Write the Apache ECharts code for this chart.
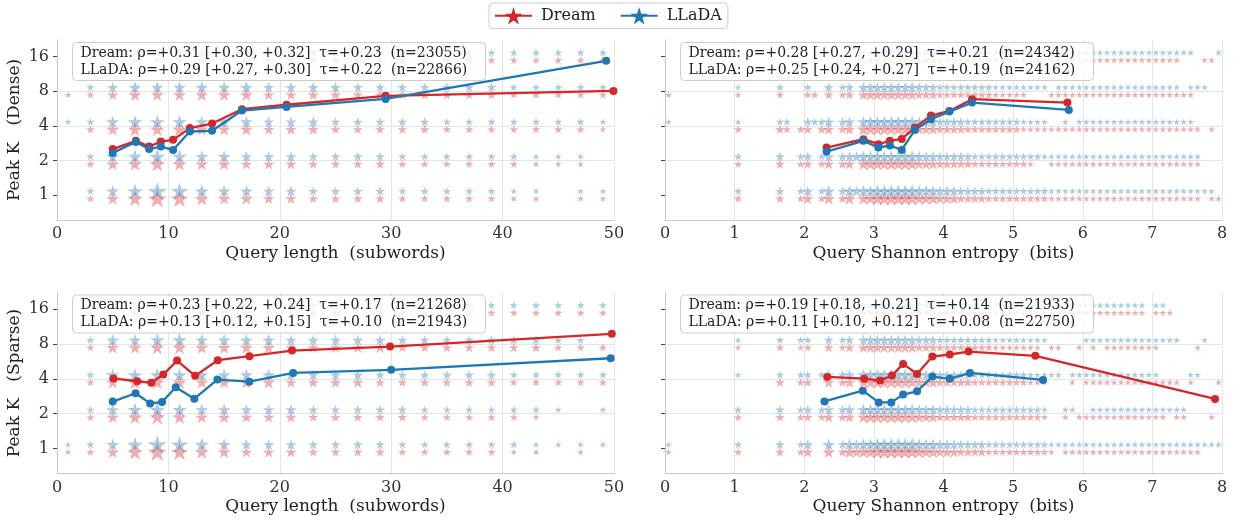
<!DOCTYPE html>
<html>
<head>
<meta charset="utf-8">
<title>Peak K vs query length / entropy</title>
<script src="https://cdn.jsdelivr.net/npm/echarts@6/dist/echarts.min.js"></script>
<style>
  html, body { margin: 0; padding: 0; background: #fff; }
  #chart { width: 1237px; height: 521px; }
</style>
</head>
<body>
<div id="chart"></div>
<script>
// ---- data ----
// rows of the star grid (Peak K values)
const kLevels = [1, 2, 4, 8, 16];
// query length bins (subwords)
const lenBins = [1, 3, 5, 7, 9, 11, 13, 15, 17, 19, 21, 23, 25, 27, 29, 31, 33, 35, 37, 39, 41, 43, 45, 47, 49];
// entropy bins (bits), centres of 0.1 wide bins
const entBins = [
  0.05, 0.15, 0.25, 0.35, 0.45, 0.55, 0.65, 0.75, 0.85, 0.95,
  1.05, 1.15, 1.25, 1.35, 1.45, 1.55, 1.65, 1.75, 1.85, 1.95,
  2.05, 2.15, 2.25, 2.35, 2.45, 2.55, 2.65, 2.75, 2.85, 2.95,
  3.05, 3.15, 3.25, 3.35, 3.45, 3.55, 3.65, 3.75, 3.85, 3.95,
  4.05, 4.15, 4.25, 4.35, 4.45, 4.55, 4.65, 4.75, 4.85, 4.95,
  5.05, 5.15, 5.25, 5.35, 5.45, 5.55, 5.65, 5.75, 5.85, 5.95,
  6.05, 6.15, 6.25, 6.35, 6.45, 6.55, 6.65, 6.75, 6.85, 6.95,
  7.05, 7.15, 7.25, 7.35, 7.45, 7.55, 7.65, 7.75, 7.85, 7.95
];

// count class per bin (0 = empty, 9 = most queries), one string per K row
const denseLenDream = [
  '0257986554433332222211011',
  '0256765544433332222221110',
  '0256665554443333322222221',
  '1245555554444333333322222',
  '0122223333333333333222222'
];
const denseLenLlada = [
  '0257986554433332222211011',
  '0256765544433332222221110',
  '1256665554443333322222221',
  '0245555554444333333322222',
  '0122223333333333333222222'
];
const sparseLenDream = [
  '1257986544433332222211010',
  '0256765544433333222221000',
  '0256665555444433333322222',
  '0255665555444443333333222',
  '0122223333333333333222222'
];
const sparseLenLlada = [
  '1257986544433332222221111',
  '0256765544433333222222101',
  '0256665555444433333322222',
  '0255665555444443333333220',
  '0122223333333333333222222'
];
const denseEntDream = [
  '0000000000 2000003002 4025035055 6666665554 4433332222 2222211111 1111111111 1111111011',
  '0000000000 2000003002 3024034055 5555554443 3333222222 2210011111 1111111111 1111111000',
  '0000000000 2000003202 3034034055 5555554443 3332222222 2111111111 1111111111 1111111010',
  '1000000000 1000002000 2203023044 4444443332 2222222111 1100011111 1111111111 1111110000',
  '0000000000 0000000000 0000000022 2222222222 2222111111 1111111111 1111111111 1111000110'
];
const denseEntLlada = [
  '0000000000 2000003002 4025035455 6666665554 4433332222 2222211111 1111111111 1111111110',
  '0000000000 2000003002 3024034455 5555554443 3333222222 2222111111 1111111111 1111111000',
  '1000000000 1000002200 3224034055 5555554443 3332222222 2111100101 1111111111 1111110000',
  '0000000000 1000002000 2003023044 4444443332 2222222111 1111101111 1111111111 1111011100',
  '0000000000 0000000000 0000000022 2222222222 2222111111 1111111111 1111111111 1111110001'
];
const sparseEntDream = [
  '1000000000 2000003002 4005035455 6666665554 4433332222 2222210111 1111111111 1111111000',
  '0000000000 2000003002 3024034055 5555554443 3333222222 2222100101 1111111111 1101100010',
  '0000000000 0000003002 3004034055 5555554443 3333222222 2211100010 1111111111 1111010001',
  '0000000000 1000002001 2003023044 4444443332 2222222111 1111011001 0101111111 1000001000',
  '0000000000 0000000000 0000000022 2222222222 2222111111 1111111111 1111111110 1110000000'
];
const sparseEntLlada = [
  '1000000000 2000003002 4005035455 6666665554 4433332222 2222211111 1111111111 1111111111',
  '0000000000 2000003002 3024034055 5555554443 3333222222 2222100110 0111111111 1111100000',
  '0000000000 1000002002 2024034055 5555554443 3333222222 2211111011 1111111111 1000011000',
  '0000000000 1000002002 2003023044 4444443332 2222222111 1111100000 1111111111 1111000100',
  '0000000000 0000000000 0000000022 2222222222 2222111111 1111111111 1111111110 1100000000'
];

// binned means (x, mean peak K)
const denseLenDreamX = [5, 7.08, 8.27, 9.32, 10.42, 11.92, 13.92, 16.6, 20.6, 29.5, 49.95];
const denseLenDreamY = [2.51, 2.96, 2.64, 2.92, 3.02, 3.82, 4.19, 5.58, 6.1, 7.3, 8.05];
const denseLenLladaX = [5, 7.08, 8.27, 9.32, 10.42, 11.92, 13.92, 16.6, 20.6, 29.5, 49.3];
const denseLenLladaY = [2.32, 2.9, 2.51, 2.64, 2.47, 3.57, 3.62, 5.43, 5.84, 6.85, 14.7];
const denseEntDreamX = [2.32, 2.85, 3.065, 3.23, 3.4, 3.59, 3.82, 4.085, 4.41, 5.78];
const denseEntDreamY = [2.59, 3.06, 2.77, 2.96, 3.08, 3.86, 4.91, 5.39, 6.82, 6.37];
const denseEntLladaX = [2.32, 2.85, 3.065, 3.23, 3.4, 3.59, 3.82, 4.085, 4.41, 5.8];
const denseEntLladaY = [2.39, 2.96, 2.59, 2.7, 2.47, 3.69, 4.57, 5.32, 6.37, 5.5];
const sparseLenDreamX = [5.07, 7.2, 8.47, 9.54, 10.78, 12.4, 14.43, 17.27, 21.1, 29.9, 49.8];
const sparseLenDreamY = [4.03, 3.81, 3.69, 4.35, 5.75, 4.24, 5.79, 6.27, 7.02, 7.6, 9.8];
const sparseLenLladaX = [5.0, 7.05, 8.36, 9.43, 10.66, 12.33, 14.4, 17.27, 21.2, 30.0, 49.7];
const sparseLenLladaY = [2.54, 3.0, 2.45, 2.52, 3.38, 2.69, 3.94, 3.78, 4.5, 4.78, 6.02];
const sparseEntDreamX = [2.33, 2.86, 3.09, 3.26, 3.42, 3.62, 3.84, 4.09, 4.36, 5.32, 7.9];
const sparseEntDreamY = [4.15, 4.01, 3.86, 4.27, 5.38, 4.41, 6.23, 6.49, 6.88, 6.32, 2.68];
const sparseEntLladaX = [2.29, 2.84, 3.07, 3.25, 3.42, 3.62, 3.84, 4.09, 4.38, 5.43];
const sparseEntLladaY = [2.55, 3.16, 2.5, 2.5, 2.92, 3.12, 4.18, 4.0, 4.5, 3.91];

// correlation boxes
const denseLenStats = ['Dream: ρ=+0.31 [+0.30, +0.32]  τ=+0.23  (n=23055)', 'LLaDA: ρ=+0.29 [+0.27, +0.30]  τ=+0.22  (n=22866)'];
const denseEntStats = ['Dream: ρ=+0.28 [+0.27, +0.29]  τ=+0.21  (n=24342)', 'LLaDA: ρ=+0.25 [+0.24, +0.27]  τ=+0.19  (n=24162)'];
const sparseLenStats = ['Dream: ρ=+0.23 [+0.22, +0.24]  τ=+0.17  (n=21268)', 'LLaDA: ρ=+0.13 [+0.12, +0.15]  τ=+0.10  (n=21943)'];
const sparseEntStats = ['Dream: ρ=+0.19 [+0.18, +0.21]  τ=+0.14  (n=21933)', 'LLaDA: ρ=+0.11 [+0.10, +0.12]  τ=+0.08  (n=22750)'];

const yTicks = [1, 2, 4, 8, 16];

// ---- styling ----
const SERIF = '"DejaVu Serif", serif';
const RED = '#d62728';
const BLUE = '#1f77b4';
const STAR = 'path://M0,-100L22.4,-30.8L95.1,-30.9L36.2,11.8L58.8,80.9L0,38.1L-58.8,80.9L-36.2,11.8L-95.1,-30.9L-22.4,-30.8Z';
const GRID_LINE = '#e0e5ee';
const AXIS_LINE = '#c9c9c9';

const grids = [
  { left: 57, top: 40, width: 557, height: 180 },    // dense / length
  { left: 665, top: 40, width: 557, height: 180 },   // dense / entropy
  { left: 57, top: 292.5, width: 557, height: 181 }, // sparse / length
  { left: 665, top: 292.5, width: 557, height: 181 } // sparse / entropy
];

function xAxisFor(i, max, interval, name) {
  return {
    gridIndex: i, type: 'value', min: 0, max: max, interval: interval,
    name: name, nameLocation: 'middle', nameGap: 25,
    nameTextStyle: { fontFamily: SERIF, fontSize: 17, color: '#222' },
    axisLine: { show: true, lineStyle: { color: AXIS_LINE, width: 1 } },
    axisTick: { show: false },
    axisLabel: { fontFamily: SERIF, fontSize: 16, color: '#333', margin: 6 },
    splitLine: { show: true, showMinLine: false, lineStyle: { color: GRID_LINE, width: 1 } }
  };
}

function yAxisFor(i, showLabels, name) {
  return {
    gridIndex: i, type: 'log', logBase: 2, min: 0.607, max: 22.3,
    name: name, nameLocation: 'middle', nameGap: 34,
    nameTextStyle: { fontFamily: SERIF, fontSize: 17, color: '#222' },
    axisLine: { show: true, lineStyle: { color: AXIS_LINE, width: 1 } },
    axisTick: { show: true, length: 4, customValues: yTicks, lineStyle: { color: '#444' } },
    axisLabel: { show: showLabels, customValues: yTicks, fontFamily: SERIF, fontSize: 16, color: '#333', margin: 8 },
    splitLine: { show: true, showMinLine: false, showMaxLine: false, lineStyle: { color: GRID_LINE, width: 1 } }
  };
}

// star scatter: one point per non-empty bin of each K row
function starSeries(bins, rows, gi, color, dy) {
  const data = [];
  rows.forEach(function (row, r) {
    row.replace(/ /g, '').split('').forEach(function (c, j) {
      const n = +c;
      if (n > 0) data.push([bins[j], kLevels[r], n]);
    });
  });
  return {
    type: 'scatter', xAxisIndex: gi, yAxisIndex: gi, data: data, silent: true,
    symbol: STAR, symbolKeepAspect: true,
    symbolSize: function (v) { return 5.5 + 1.5 * v[2]; },
    symbolOffset: [0, dy],
    itemStyle: { color: color, opacity: 0.38 },
    z: 2
  };
}

function meanSeries(name, xs, ys, gi, color) {
  return {
    type: 'line', name: name, xAxisIndex: gi, yAxisIndex: gi,
    data: xs.map(function (x, i) { return [x, ys[i]]; }),
    symbol: 'circle', symbolSize: 8, showSymbol: true, silent: true,
    lineStyle: { color: color, width: 2.3 },
    itemStyle: { color: color },
    z: 5
  };
}

function statBox(gi, lines) {
  const g = grids[gi];
  return {
    type: 'group', left: g.left + 15, top: g.top + 2, z: 100,
    children: [
      { type: 'rect', z: 100, shape: { x: 0, y: 0, width: 413, height: 38, r: 4 },
        style: { fill: 'rgba(255,255,255,0.8)', stroke: '#cccccc', lineWidth: 1 } },
      { type: 'text', z: 101, x: 8, y: 2,
        style: { text: lines.join('\n'), font: '14px ' + SERIF, fill: '#222', lineHeight: 17, verticalAlign: 'top' } }
    ]
  };
}

const chart = echarts.init(document.getElementById('chart'));

const option = {
  animation: false,
  backgroundColor: '#fff',
  grid: grids,
  legend: {
    data: ['Dream', 'LLaDA'],
    left: 489, top: 3,
    itemWidth: 37, itemHeight: 22, itemGap: 24,
    padding: [4, 6, 4, 5],
    backgroundColor: '#fff', borderColor: '#cccccc', borderWidth: 1, borderRadius: 4,
    textStyle: { fontFamily: SERIF, fontSize: 16, color: '#222', padding: [0, 0, 0, 4] }
  },
  xAxis: [
    xAxisFor(0, 50, 10, 'Query length  (subwords)'),
    xAxisFor(1, 8, 1, 'Query Shannon entropy  (bits)'),
    xAxisFor(2, 50, 10, 'Query length  (subwords)'),
    xAxisFor(3, 8, 1, 'Query Shannon entropy  (bits)')
  ],
  yAxis: [
    yAxisFor(0, true, 'Peak K   (Dense)'),
    yAxisFor(1, false, ''),
    yAxisFor(2, true, 'Peak K   (Sparse)'),
    yAxisFor(3, false, '')
  ],
  graphic: [
    statBox(0, denseLenStats),
    statBox(1, denseEntStats),
    statBox(2, sparseLenStats),
    statBox(3, sparseEntStats)
  ],
  series: [
    // legend entries (line + star)
    { type: 'line', name: 'Dream', data: [], symbol: STAR, symbolKeepAspect: true,
      lineStyle: { color: RED, width: 2.5 }, itemStyle: { color: RED } },
    { type: 'line', name: 'LLaDA', data: [], symbol: STAR, symbolKeepAspect: true,
      lineStyle: { color: BLUE, width: 2.5 }, itemStyle: { color: BLUE } },

    starSeries(lenBins, denseLenLlada, 0, BLUE, -4),
    starSeries(lenBins, denseLenDream, 0, RED, 3.5),
    starSeries(entBins, denseEntLlada, 1, BLUE, -4),
    starSeries(entBins, denseEntDream, 1, RED, 3.5),
    starSeries(lenBins, sparseLenLlada, 2, BLUE, -4),
    starSeries(lenBins, sparseLenDream, 2, RED, 3.5),
    starSeries(entBins, sparseEntLlada, 3, BLUE, -4),
    starSeries(entBins, sparseEntDream, 3, RED, 3.5),

    meanSeries('Dream mean', denseLenDreamX, denseLenDreamY, 0, RED),
    meanSeries('LLaDA mean', denseLenLladaX, denseLenLladaY, 0, BLUE),
    meanSeries('Dream mean', denseEntDreamX, denseEntDreamY, 1, RED),
    meanSeries('LLaDA mean', denseEntLladaX, denseEntLladaY, 1, BLUE),
    meanSeries('Dream mean', sparseLenDreamX, sparseLenDreamY, 2, RED),
    meanSeries('LLaDA mean', sparseLenLladaX, sparseLenLladaY, 2, BLUE),
    meanSeries('Dream mean', sparseEntDreamX, sparseEntDreamY, 3, RED),
    meanSeries('LLaDA mean', sparseEntLladaX, sparseEntLladaY, 3, BLUE)
  ]
};

chart.setOption(option);
</script>
</body>
</html>
